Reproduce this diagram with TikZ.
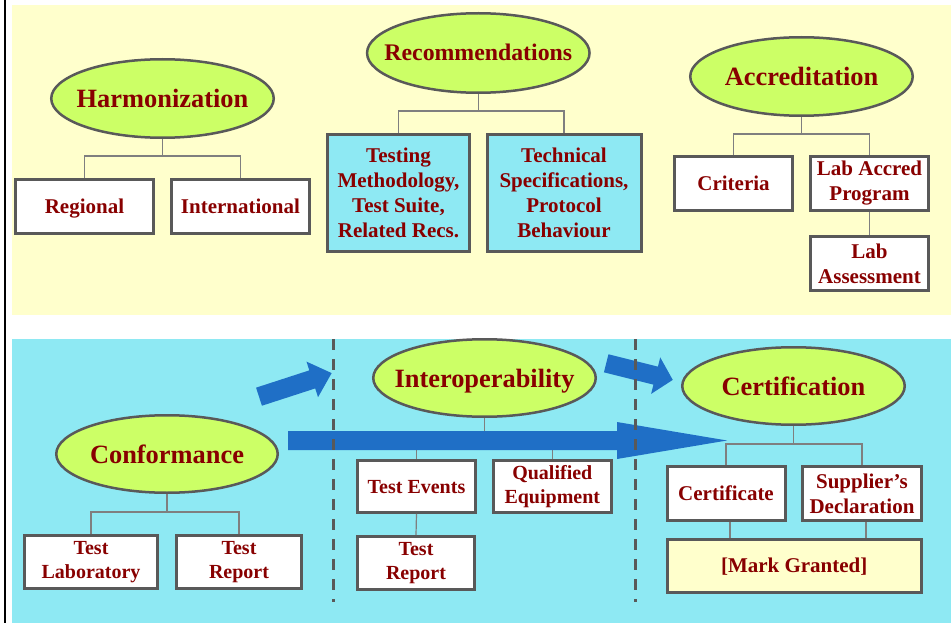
\documentclass[tikz,border=0pt]{standalone}
\usepackage{fontspec}
\setmainfont{Liberation Serif}
\usetikzlibrary{shapes.geometric}

\definecolor{paneyellow}{HTML}{FFFFCC}
\definecolor{panecyan}{HTML}{8EE9F3}
\definecolor{topicgreen}{HTML}{CCFF66}
\definecolor{textred}{HTML}{880000}
\definecolor{edgegrey}{HTML}{595959}
\definecolor{linkgrey}{HTML}{7F7F7F}
\definecolor{flowblue}{HTML}{1F6FC6}

\begin{document}
\begin{tikzpicture}[x=1pt, y=-1pt,
    topic/.style={ellipse, draw=edgegrey, line width=2.5pt, fill=topicgreen, inner sep=0pt,
        text=textred, text height=18pt, text depth=0pt, font=\fontsize{26.4}{30}\selectfont\bfseries},
    item/.style={rectangle, draw=edgegrey, line width=3pt, fill=white, inner sep=0pt, align=center,
        text=textred, font=\fontsize{21}{25}\selectfont\bfseries},
    oneline/.style={text height=14pt, text depth=0pt},
    link/.style={draw=linkgrey, line width=1.2pt},
    divider/.style={draw=edgegrey, line width=3pt, dash pattern=on 11pt off 9pt},
    flow/.style={fill=flowblue, draw=none}]
\useasboundingbox (0,0) rectangle (951,623);

% panels
\fill[paneyellow] (12,5) rectangle (951,315);
\fill[panecyan] (12,339) rectangle (951,623);
\draw[black, line width=2pt] (5,0) -- (5,623);

% upper panel
\node[topic, minimum width=222.5pt, minimum height=78.5pt] (harmonization) at (162.5,98.5) {\makebox[0pt]{Harmonization}};
\node[item, oneline, minimum width=138pt, minimum height=54pt] (regional) at (84.5,206.5) {Regional};
\node[item, oneline, minimum width=138pt, minimum height=54pt] (international) at (240.5,206.5) {International};

\node[topic, minimum width=222.5pt, minimum height=79.5pt, font=\fontsize{23.8}{28}\selectfont\bfseries, text height=16pt] (recommendations) at (478.3,53) {\makebox[0pt]{Recommendations}};
\node[item, fill=panecyan, minimum width=142pt, minimum height=117pt] (testing) at (398.5,193) {Testing\\Methodology,\\Test Suite,\\Related Recs.};
\node[item, fill=panecyan, minimum width=154pt, minimum height=117pt] (techspec) at (564,193) {Technical\\Specifications,\\Protocol\\Behaviour};

\node[topic, minimum width=222.5pt, minimum height=78.5pt] (accreditation) at (801.5,76.5) {\makebox[0pt]{Accreditation}};
\node[item, oneline, minimum width=118pt, minimum height=54pt] (criteria) at (733.5,183.5) {Criteria};
\node[item, minimum width=118pt, minimum height=54pt] (labaccred) at (869.5,183.5) {Lab Accred\\Program};
\node[item, minimum width=118pt, minimum height=54pt] (labassess) at (869.5,263.5) {Lab\\Assessment};

% lower panel
\node[topic, minimum width=221.5pt, minimum height=77.5pt] (conformance) at (167,454) {\makebox[0pt]{Conformance}};
\node[item, minimum width=133pt, minimum height=53pt, font=\fontsize{20}{24}\selectfont\bfseries] (testlab) at (91,562) {Test\\Laboratory};
\node[item, minimum width=125pt, minimum height=53pt, font=\fontsize{20}{24}\selectfont\bfseries] (testreport) at (239,562) {Test\\Report};

\node[topic, minimum width=222.5pt, minimum height=77.5pt] (interop) at (484.5,378) {\makebox[0pt]{Interoperability}};
\node[item, oneline, minimum width=118pt, minimum height=52pt, font=\fontsize{20}{24}\selectfont\bfseries] (testevents) at (416.5,486.3) {Test Events};
\node[item, minimum width=118pt, minimum height=52pt, font=\fontsize{20}{24}\selectfont\bfseries] (qualified) at (552.3,486.3) {Qualified\\Equipment};
\node[item, minimum width=117pt, minimum height=53pt, font=\fontsize{20}{24}\selectfont\bfseries] (eventreport) at (416,563) {Test\\Report};

\node[topic, minimum width=222.5pt, minimum height=77.5pt] (certification) at (793.5,386) {\makebox[0pt]{Certification}};
\node[item, oneline, minimum width=118pt, minimum height=54pt] (certificate) at (726,493.5) {Certificate};
\node[item, minimum width=119pt, minimum height=54pt] (supplier) at (862,493.5) {Supplier’s\\Declaration};
\node[item, oneline, fill=paneyellow, minimum width=254pt, minimum height=53pt] (granted) at (794.2,565.8) {[Mark Granted]};

% tree links
\draw[link] (harmonization.south) -- ++(0,17) -| (regional.north);
\draw[link] (harmonization.south) -- ++(0,17) -| (international.north);
\draw[link] (recommendations.south) -- ++(0,17) -| (testing.north);
\draw[link] (recommendations.south) -- ++(0,17) -| (techspec.north);
\draw[link] (accreditation.south) -- ++(0,17) -| (criteria.north);
\draw[link] (accreditation.south) -- ++(0,17) -| (labaccred.north);
\draw[link] (labaccred.south) -- (labassess.north);
\draw[link] (conformance.south) -- ++(0,18) -| (testlab.north);
\draw[link] (conformance.south) -- ++(0,18) -| (testreport.north);
\draw[link] (interop.south) -- ++(0,22) -| (testevents.north);
\draw[link] (interop.south) -- ++(0,22) -| (qualified.north);
\draw[link] (testevents.south) -- (eventreport.north);
\draw[link] (certification.south) -- ++(0,18) -| (certificate.north);
\draw[link] (certification.south) -- ++(0,18) -| (supplier.north);
\draw[link] ([xshift=4pt]certificate.south) -- ([xshift=4pt]certificate.south |- granted.north);
\draw[link] ([xshift=4pt]supplier.south) -- ([xshift=4pt]supplier.south |- granted.north);

% flow arrows
\fill[flow] (288,431) -- (617,431) -- (617,422) -- (727,440.5) -- (617,459) -- (617,450) -- (288,450) -- cycle;
\begin{scope}[shift={(259,396.7)}, rotate=18]
  \fill[flow] (0,-9.5) -- (56,-9.5) -- (56,-18.7) -- (76.4,0) -- (56,18.7) -- (56,9.5) -- (0,9.5) -- cycle;
\end{scope}
\begin{scope}[shift={(606.2,363.3)}, rotate=-14]
  \fill[flow] (0,-9.3) -- (51,-9.3) -- (51,-18.8) -- (68.6,0) -- (51,18.8) -- (51,9.3) -- (0,9.3) -- cycle;
\end{scope}

% dividers
\draw[divider] (333,339) -- (333,602);
\draw[divider] (635,339) -- (635,602);

\end{tikzpicture}
\end{document}
